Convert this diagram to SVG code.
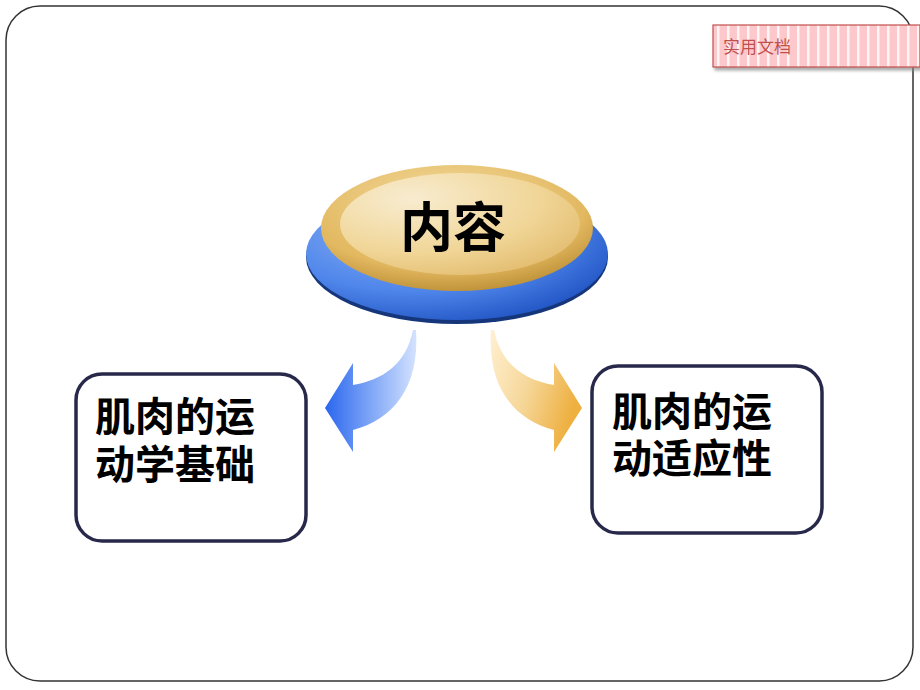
<svg xmlns="http://www.w3.org/2000/svg" width="920" height="690" viewBox="0 0 920 690">
<defs>
<style>
.box{fill:#fff;stroke:#27284a;stroke-width:3.5}
.t{font-family:"Liberation Sans","Noto Sans CJK SC",sans-serif;font-weight:bold;fill:#000}
.s{font-size:40px}
</style>
<pattern id="stripes" width="10" height="10" patternUnits="userSpaceOnUse">
<rect width="10" height="10" fill="#fcc8cc"/>
<rect x="7" width="2.5" height="10" fill="#fff5f5"/>
</pattern>
<radialGradient id="blue" cx="0.35" cy="0.3" r="0.8">
<stop offset="0" stop-color="#8fb4f8"/>
<stop offset="0.6" stop-color="#4f86ea"/>
<stop offset="1" stop-color="#1c4fc0"/>
</radialGradient>
<radialGradient id="gold" cx="0.45" cy="0.3" r="0.75">
<stop offset="0" stop-color="#f4dca0"/>
<stop offset="0.7" stop-color="#e2b860"/>
<stop offset="1" stop-color="#b88a30"/>
</radialGradient>
<radialGradient id="goldin" cx="0.3" cy="0.25" r="0.9">
<stop offset="0" stop-color="#f8ecd0"/>
<stop offset="0.6" stop-color="#f0d596"/>
<stop offset="1" stop-color="#e0b868"/>
</radialGradient>
<linearGradient id="lblue" x1="0" y1="0" x2="1" y2="0">
<stop offset="0" stop-color="#2a66ee"/>
<stop offset="0.5" stop-color="#7fa6f6"/>
<stop offset="1" stop-color="#d4e2ff"/>
</linearGradient>
<linearGradient id="rgold" x1="0" y1="0" x2="1" y2="0.4">
<stop offset="0" stop-color="#fff0d0"/>
<stop offset="0.5" stop-color="#f6d79a"/>
<stop offset="1" stop-color="#eeb040"/>
</linearGradient>
<filter id="sh" x="-10%" y="-10%" width="130%" height="140%">
<feDropShadow dx="2" dy="3" stdDeviation="1.5" flood-color="#888" flood-opacity="0.7"/>
</filter>
</defs>
<rect x="6" y="6" width="907" height="675" rx="34" fill="#fff" stroke="#333" stroke-width="1.5"/>
<g id="label">
<rect x="713" y="25" width="207" height="42" fill="url(#stripes)" stroke="#c0504d" stroke-width="1.2" filter="url(#sh)"/>
<text x="723" y="53" font-family="Noto Sans CJK SC,serif" font-size="17" fill="#c0504d">实用文档</text>
</g>
<g id="center">
<ellipse cx="457" cy="257" rx="151" ry="67" fill="#15367a"/>
<ellipse cx="457" cy="254" rx="151" ry="66" fill="url(#blue)"/>
<ellipse cx="457" cy="228" rx="136" ry="63" fill="url(#gold)"/>
<ellipse cx="460" cy="224" rx="120" ry="51" fill="url(#goldin)"/>
<text class="t" x="453" y="247" font-size="53" text-anchor="middle">内容</text>
</g>
<g id="connectors">
<path d="M413 330 C406 365 382 380 353 385 L353 363 L325 408 L353 452 L353 430 C392 420 420 388 416 330 Z" fill="url(#lblue)"/>
<path d="M494 330 C501 365 525 380 554 385 L554 363 L582 408 L554 452 L554 430 C515 420 487 388 491 330 Z" fill="url(#rgold)"/>
</g>
<g id="left">
<rect class="box" x="76" y="374" width="230" height="167" rx="26"/>
<text class="t s" x="95" y="431">肌肉的运</text>
<text class="t s" x="95" y="479">动学基础</text>
</g>
<g id="right">
<rect class="box" x="592" y="366" width="230" height="167" rx="26"/>
<text class="t s" x="612" y="426">肌肉的运</text>
<text class="t s" x="612" y="473">动适应性</text>
</g>
</svg>
